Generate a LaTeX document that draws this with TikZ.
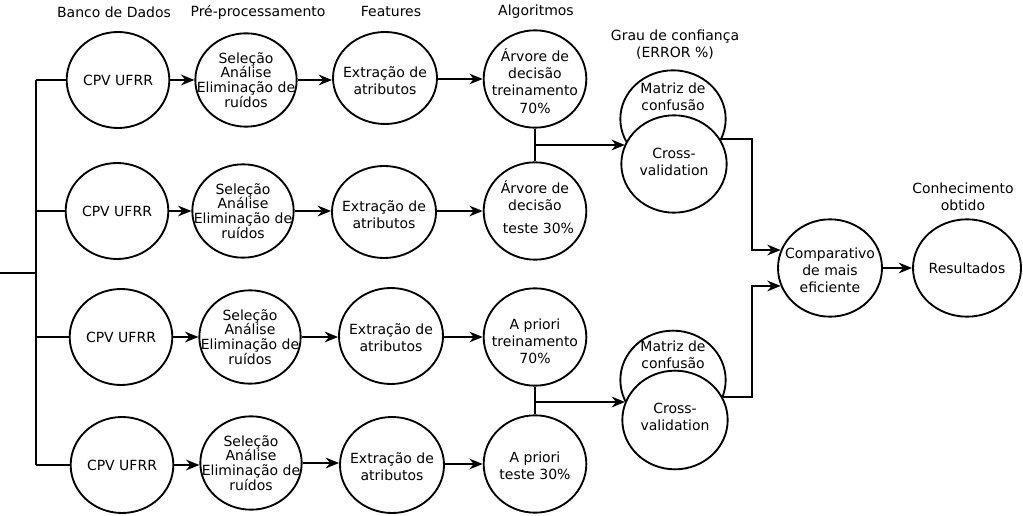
\documentclass[tikz,border=0pt]{standalone}
\usepackage{fontspec}
\setmainfont{DejaVu Sans}
\usetikzlibrary{shapes.geometric,arrows.meta}
\begin{document}
\begin{tikzpicture}[x=0.75pt,y=-0.75pt,
  bub/.style={draw, ellipse, line width=1.4pt, inner sep=0pt, fill=white,
              minimum width=77pt, minimum height=72pt},
  txt/.style={font=\fontsize{10.5}{12.9}\selectfont, align=center, inner sep=0pt},
  ln/.style={line width=1.5pt},
  arr/.style={ln, -{Stealth[length=10pt,width=8pt]}}]
\useasboundingbox (0,0) rectangle (1023,516);

% headers
\node[txt] (hBanco) at (114,12) {Banco de Dados};
\node[txt] (hPre) at (258,12) {Pré-processamento};
\node[txt] (hFeat) at (391,12) {Features};
\node[txt] (hAlg) at (536,12) {Algoritmos};
\node[txt] (hGrau) at (675,45) {Grau de confiança\\(ERROR \%)};
\node[txt] (hCon) at (963,197) {Conhecimento\\obtido};

% column 1: database
\node[bub] (C1) at (118,80) {};
\node[bub] (C2) at (117,211) {};
\node[bub] (C3) at (121,337) {};
\node[bub] (C4) at (122,465) {};
% column 2: preprocessing
\node[bub, minimum width=76pt, minimum height=70pt] (S1) at (246,80) {};
\node[bub, minimum width=76pt, minimum height=70pt] (S2) at (243,211) {};
\node[bub, minimum width=76pt, minimum height=70pt] (S3) at (250,337) {};
\node[bub, minimum width=76pt, minimum height=70pt] (S4) at (251,463) {};
% column 3: features
\node[bub, minimum width=78pt, minimum height=69pt] (E1) at (385,78) {};
\node[bub, minimum width=78pt, minimum height=69pt] (E2) at (384,212) {};
\node[bub, minimum width=78pt, minimum height=72pt] (E3) at (391,336) {};
\node[bub, minimum width=78pt, minimum height=72pt] (E4) at (392,465) {};
% column 4: algorithms
\node[bub, minimum height=73pt] (A1) at (535,79) {};
\node[bub, minimum height=73pt] (A2) at (535,211) {};
\node[bub, minimum height=73pt] (A3) at (535,337) {};
\node[bub, minimum height=73pt] (A4) at (535,464) {};
% confidence
\node[bub, minimum width=79pt, minimum height=73pt] (M1) at (673,119) {};
\node[bub, minimum width=79pt, minimum height=73pt] (X1) at (674,164) {};
\node[bub, minimum width=79pt, minimum height=74pt] (M2) at (673,380) {};
\node[bub, minimum width=79pt, minimum height=74pt] (X2) at (675,420) {};
% comparison and results
\node[bub, minimum width=78pt, minimum height=73pt] (K) at (830,268) {};
\node[bub, minimum width=81pt, minimum height=73pt] (R) at (967,268) {};

% texts
\node[txt] (tC1) at (C1) {CPV UFRR};
\node[txt] (tC2) at (C2) {CPV UFRR};
\node[txt] (tC3) at (C3) {CPV UFRR};
\node[txt] (tC4) at (C4) {CPV UFRR};
\node[txt] (tS1) at (S1) {Seleção\\[-1.8pt]Análise\\[-1.8pt]Eliminação de\\[-1.8pt]ruídos};
\node[txt] (tS2) at (S2) {Seleção\\[-1.8pt]Análise\\[-1.8pt]Eliminação de\\[-1.8pt]ruídos};
\node[txt] (tS3) at (S3) {Seleção\\[-1.8pt]Análise\\[-1.8pt]Eliminação de\\[-1.8pt]ruídos};
\node[txt] (tS4) at (S4) {Seleção\\[-1.8pt]Análise\\[-1.8pt]Eliminação de\\[-1.8pt]ruídos};
\node[txt] (tE1) at (385,81) {Extração de\\atributos};
\node[txt] (tE2) at (384,215) {Extração de\\atributos};
\node[txt] (tE3) at (391,338) {Extração de\\atributos};
\node[txt] (tE4) at (392,467) {Extração de\\atributos};
\node[txt] (tA1) at (535,81) {Árvore de\\decisão\\treinamento\\70\%};
\node[txt] (tA2) at (535,207) {Árvore de\\decisão\hspace*{0.7em}\\[4pt]\hspace*{0.5em}teste 30\%};
\node[txt] (tA3) at (535,341) {A priori\\treinamento\\70\%};
\node[txt] (tA4) at (535,466) {A priori\\teste 30\%};
\node[txt] (tM1) at (673,97) {Matriz de\\confusão};
\node[txt] (tX1) at (674,162) {Cross-\\validation};
\node[txt] (tM2) at (673,355) {Matriz de\\confusão};
\node[txt] (tX2) at (675,417) {Cross-\\validation};
\node[txt] (tK) at (830,270) {Comparativo\\de mais\\eficiente};
\node[txt] (tR) at (967,268) {Resultados};

% input spine
\coordinate (in) at (0,273);
\coordinate (inJ) at (36,273);
\coordinate (s1) at (36,80);
\coordinate (s2) at (36,211);
\coordinate (s3) at (36,337);
\coordinate (s4) at (36,465);
\draw[ln] (in) -- (inJ);
\draw[ln] (s1) -- (s4);
\draw[ln] (s1) -- (C1.west);
\draw[ln] (s2) -- (C2.west);
\draw[ln] (s3) -- (C3.west);
\draw[ln] (s4) -- (C4.west);

% row arrows
\draw[arr] (C1.east) -- (S1.west);
\draw[arr] (C2.east) -- (S2.west |- C2.east);
\draw[arr] (C3.east) -- (S3.west);
\draw[arr] (C4.east) -- (S4.west |- C4.east);
\draw[arr] (S1.east) -- (E1.west |- S1.east);
\draw[arr] (S2.east) -- (E2.west |- S2.east);
\draw[arr] (S3.east) -- (E3.west |- S3.east);
\draw[arr] (S4.east) -- (E4.west |- S4.east);
\draw[arr] (E1.east |- A1.west) -- (A1.west);
\draw[arr] (E2.east |- A2.west) -- (A2.west);
\draw[arr] (E3.east |- A3.west) -- (A3.west);
\draw[arr] (E4.east |- A4.west) -- (A4.west);

% algorithm pairs to confidence
\coordinate (j1) at (535,145);
\coordinate (j2) at (535,402);
\draw[ln] (A1.south) -- (A2.north);
\draw[ln] (A3.south) -- (A4.north);
\draw[arr] (j1) -- (j1 -| X1.158);
\draw[arr] (j2) -- (j2 -| X2.160);

% confidence to comparison
\coordinate (bend) at (752,0);
\draw[arr] (X1.29) -- (X1.29 -| bend) |- (K.160);
\draw[arr] (X2.26) -- (X2.26 -| bend) |- (K.200);
\draw[arr] (K.east) -- (R.west);
\end{tikzpicture}
\end{document}
